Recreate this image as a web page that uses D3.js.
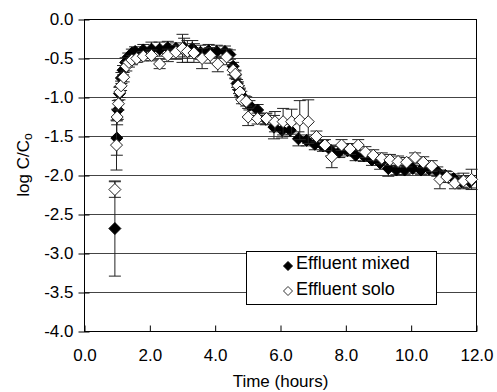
<!DOCTYPE html>
<html>
<head>
<meta charset="utf-8">
<script src="https://cdn.jsdelivr.net/npm/d3@7"></script>
<style>
  body { margin: 0; background: #fff; }
  text { font-family: "Liberation Sans", Arial, sans-serif; fill: #000; }
</style>
</head>
<body>
<div id="chart"></div>
<script>
// Effluent mixed (filled diamonds)
const mixedTime = [0.93, 0.99, 1.02, 1.07, 1.13, 1.18, 1.26, 1.34, 1.45, 1.55, 1.80, 2.05, 2.30, 2.55, 2.80, 3.05, 3.30, 3.55, 3.80, 4.05, 4.30, 4.45, 4.55, 4.62, 4.67, 4.73, 4.80, 4.90, 5.05, 5.30, 5.55, 5.80, 6.05, 6.30, 6.55, 6.80, 7.05, 7.30, 7.55, 7.80, 8.05, 8.30, 8.55, 8.80, 9.05, 9.30, 9.55, 9.80, 10.05, 10.30, 10.55, 10.80, 11.05, 11.30, 11.55, 11.80];
const mixedLog = [-2.68, -1.52, -1.16, -0.95, -0.75, -0.65, -0.55, -0.48, -0.43, -0.41, -0.39, -0.38, -0.38, -0.36, -0.37, -0.36, -0.37, -0.42, -0.40, -0.41, -0.41, -0.45, -0.60, -0.71, -0.82, -0.90, -0.97, -1.03, -1.10, -1.16, -1.28, -1.38, -1.42, -1.42, -1.53, -1.55, -1.60, -1.62, -1.68, -1.70, -1.68, -1.74, -1.75, -1.80, -1.84, -1.91, -1.93, -1.93, -1.91, -1.93, -1.92, -1.95, -2.00, -2.04, -2.08, -2.08];
const mixedErr = [0.61, 0.22, 0.12, 0.08, 0.07, 0.06, 0.06, 0.05, 0.05, 0.06, 0.07, 0.09, 0.09, 0.08, 0.07, 0.12, 0.10, 0.09, 0.08, 0.08, 0.07, 0.06, 0.05, 0.05, 0.05, 0.05, 0.05, 0.05, 0.06, 0.07, 0.07, 0.15, 0.10, 0.08, 0.09, 0.07, 0.07, 0.07, 0.07, 0.07, 0.07, 0.07, 0.07, 0.07, 0.08, 0.10, 0.06, 0.06, 0.06, 0.06, 0.06, 0.06, 0.06, 0.06, 0.07, 0.08];

// Effluent solo (open diamonds)
const soloTime = [0.93, 0.98, 1.00, 1.04, 1.08, 1.12, 1.20, 1.28, 1.36, 1.45, 1.60, 1.80, 2.05, 2.30, 2.55, 2.80, 3.00, 3.15, 3.35, 3.60, 3.85, 4.08, 4.35, 4.55, 4.62, 4.70, 4.76, 4.82, 4.95, 5.01, 5.30, 5.57, 5.83, 6.08, 6.34, 6.59, 6.85, 7.10, 7.36, 7.57, 7.87, 8.13, 8.38, 8.60, 8.84, 9.10, 9.35, 9.60, 9.86, 10.12, 10.37, 10.63, 10.88, 11.09, 11.34, 11.60, 11.85];
const soloLog = [-2.18, -1.61, -1.25, -1.08, -0.93, -0.85, -0.74, -0.60, -0.55, -0.52, -0.50, -0.47, -0.46, -0.57, -0.46, -0.42, -0.37, -0.41, -0.43, -0.50, -0.46, -0.57, -0.48, -0.65, -0.70, -0.85, -0.93, -1.03, -1.05, -1.25, -1.27, -1.27, -1.31, -1.31, -1.31, -1.29, -1.31, -1.50, -1.61, -1.76, -1.61, -1.66, -1.61, -1.70, -1.74, -1.78, -1.80, -1.82, -1.83, -1.77, -1.83, -1.88, -2.05, -2.02, -2.10, -2.07, -2.05];
const soloErr = [0.10, 0.32, 0.10, 0.08, 0.07, 0.06, 0.06, 0.06, 0.06, 0.06, 0.05, 0.06, 0.07, 0.06, 0.08, 0.09, 0.18, 0.14, 0.12, 0.13, 0.10, 0.10, 0.10, 0.06, 0.05, 0.05, 0.05, 0.05, 0.06, 0.11, 0.07, 0.07, 0.13, 0.17, 0.16, 0.25, 0.28, 0.07, 0.07, 0.14, 0.07, 0.07, 0.07, 0.07, 0.07, 0.07, 0.07, 0.07, 0.06, 0.06, 0.07, 0.07, 0.12, 0.07, 0.07, 0.10, 0.13];

const xTicks = [0, 2, 4, 6, 8, 10, 12];
const yTicks = [0, -0.5, -1, -1.5, -2, -2.5, -3, -3.5, -4];
const seriesNames = ["Effluent mixed", "Effluent solo"];

const width = 497, height = 392;
const svg = d3.select("#chart").append("svg")
    .attr("width", width)
    .attr("height", height);

const x = d3.scaleLinear().domain([0, 12]).range([84.5, 476.5]);
const y = d3.scaleLinear().domain([-4, 0]).range([331.5, 19.5]);

const mixed = mixedTime.map((t, i) => ({ t, v: mixedLog[i], e: mixedErr[i] }));
const solo = soloTime.map((t, i) => ({ t, v: soloLog[i], e: soloErr[i] }));

// gridlines
svg.append("g")
    .selectAll("line")
    .data(yTicks.filter(d => d > -4 && d < 0))
    .enter()
    .append("line")
    .attr("x1", x(0))
    .attr("x2", x(12))
    .attr("y1", d => y(d))
    .attr("y2", d => y(d))
    .attr("stroke", "#444")
    .attr("stroke-width", 1);

// frame
svg.append("rect")
    .attr("x", x(0))
    .attr("y", y(0))
    .attr("width", x(12) - x(0))
    .attr("height", y(-4) - y(0))
    .attr("fill", "none")
    .attr("stroke", "#000")
    .attr("stroke-width", 1);

// axes
const xAxis = d3.axisBottom(x)
    .tickValues(xTicks)
    .tickSizeInner(-6)
    .tickSizeOuter(0)
    .tickPadding(17)
    .tickFormat(d => d.toFixed(1));

const xAxisGroup = svg.append("g")
    .attr("transform", `translate(0, ${y(-4)})`)
    .call(xAxis);
xAxisGroup.select(".domain").remove();
xAxisGroup.selectAll("text")
    .style("font-size", "17px")
    .style("font-family", "'Liberation Sans', Arial, sans-serif");

const yAxis = d3.axisLeft(y)
    .tickValues(yTicks)
    .tickSizeInner(6)
    .tickSizeOuter(0)
    .tickPadding(5)
    .tickFormat(d => d.toFixed(1));

const yAxisGroup = svg.append("g")
    .attr("transform", `translate(${x(0)}, 0)`)
    .call(yAxis);
yAxisGroup.select(".domain").remove();
yAxisGroup.selectAll(".tick line").attr("x1", 5);
yAxisGroup.selectAll("text")
    .style("font-size", "17px")
    .style("font-family", "'Liberation Sans', Arial, sans-serif");

// diamond path
const diamond = r => `M0,${-r}L${r},0L0,${r}L${-r},0Z`;

function drawSeries(data, filled) {
    const g = svg.append("g");
    const bars = g.selectAll("g.err")
        .data(data)
        .enter()
        .append("g")
        .attr("class", "err")
        .attr("stroke", "#222")
        .attr("stroke-width", 1);
    bars.append("line")
        .attr("x1", d => x(d.t))
        .attr("x2", d => x(d.t))
        .attr("y1", d => y(d.v + d.e))
        .attr("y2", d => y(d.v - d.e));
    bars.append("line")
        .attr("x1", d => x(d.t) - 6)
        .attr("x2", d => x(d.t) + 6)
        .attr("y1", d => y(d.v + d.e))
        .attr("y2", d => y(d.v + d.e));
    bars.append("line")
        .attr("x1", d => x(d.t) - 6)
        .attr("x2", d => x(d.t) + 6)
        .attr("y1", d => y(d.v - d.e))
        .attr("y2", d => y(d.v - d.e));

    g.selectAll("path")
        .data(data)
        .enter()
        .append("path")
        .attr("d", diamond(6))
        .attr("transform", d => `translate(${x(d.t)},${y(d.v)})`)
        .attr("fill", filled ? "#000" : "#fff")
        .attr("stroke", filled ? "#000" : "#222")
        .attr("stroke-width", 1);
}

drawSeries(mixed, true);
drawSeries(solo, false);

// legend
const legend = svg.append("g");
legend.append("rect")
    .attr("x", 246.5)
    .attr("y", 251.5)
    .attr("width", 190)
    .attr("height", 53)
    .attr("fill", "#fff")
    .attr("stroke", "#000")
    .attr("stroke-width", 1);

legend.selectAll("path")
    .data(seriesNames)
    .enter()
    .append("path")
    .attr("d", diamond(4.5))
    .attr("transform", (d, i) => `translate(288, ${266 + i * 25})`)
    .attr("fill", (d, i) => i === 0 ? "#000" : "#fff")
    .attr("stroke", (d, i) => i === 0 ? "#000" : "#333");

legend.selectAll("text")
    .data(seriesNames)
    .enter()
    .append("text")
    .attr("x", 296)
    .attr("y", (d, i) => 268.5 + i * 26.5)
    .style("font-size", "18px")
    .text(d => d);

// axis titles
svg.append("text")
    .attr("x", (x(0) + x(12)) / 2)
    .attr("y", 387)
    .attr("text-anchor", "middle")
    .style("font-size", "17px")
    .text("Time (hours)");

const yTitle = svg.append("text")
    .attr("transform", "translate(28.5, 165) rotate(-90)")
    .attr("text-anchor", "middle")
    .style("font-size", "17px");
yTitle.append("tspan").text("log C/C");
yTitle.append("tspan")
    .attr("dy", 3)
    .style("font-size", "12px")
    .text("o");
</script>
</body>
</html>
